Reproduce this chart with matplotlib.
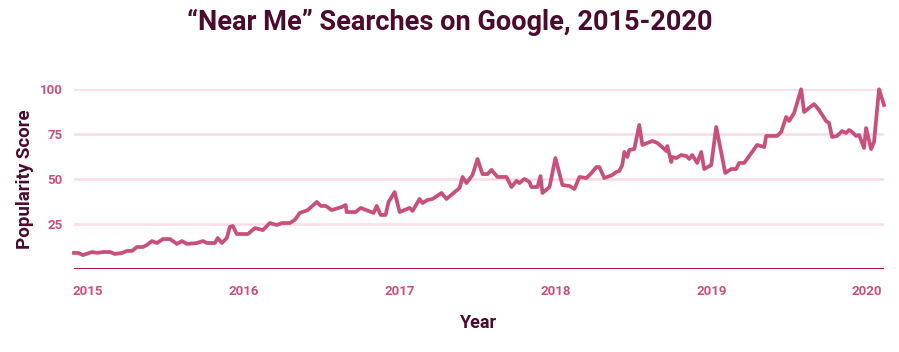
import matplotlib
matplotlib.use("Agg")
from matplotlib import pyplot as plt

# weekly popularity (decimal year, score)
weeks = [2014.910, 2014.936, 2014.968, 2015.026, 2015.058, 2015.096, 2015.141, 2015.173,
         2015.218, 2015.250, 2015.282, 2015.314, 2015.353, 2015.378, 2015.410, 2015.442,
         2015.481, 2015.526, 2015.571, 2015.603, 2015.635, 2015.699, 2015.737, 2015.763,
         2015.814, 2015.833, 2015.859, 2015.891, 2015.910, 2015.929, 2015.955, 2016.026,
         2016.071, 2016.122, 2016.167, 2016.212, 2016.244, 2016.295, 2016.327, 2016.359,
         2016.410, 2016.468, 2016.494, 2016.526, 2016.564, 2016.628, 2016.654, 2016.660,
         2016.718, 2016.750, 2016.833, 2016.853, 2016.878, 2016.910, 2016.929, 2016.968,
         2017.000, 2017.064, 2017.083, 2017.128, 2017.147, 2017.179, 2017.212, 2017.269,
         2017.301, 2017.385, 2017.404, 2017.429, 2017.468, 2017.500, 2017.532, 2017.564,
         2017.590, 2017.628, 2017.686, 2017.718, 2017.750, 2017.769, 2017.801, 2017.833,
         2017.846, 2017.885, 2017.904, 2017.917, 2017.962, 2018.000, 2018.045, 2018.090,
         2018.122, 2018.154, 2018.199, 2018.231, 2018.263, 2018.282, 2018.314, 2018.346,
         2018.365, 2018.391, 2018.410, 2018.429, 2018.442, 2018.462, 2018.474, 2018.506,
         2018.538, 2018.558, 2018.622, 2018.654, 2018.686, 2018.712, 2018.718, 2018.744,
         2018.750, 2018.776, 2018.808, 2018.840, 2018.859, 2018.878, 2018.910, 2018.936,
         2018.955, 2019.000, 2019.032, 2019.090, 2019.128, 2019.160, 2019.179, 2019.212,
         2019.295, 2019.340, 2019.353, 2019.423, 2019.449, 2019.481, 2019.500, 2019.532,
         2019.577, 2019.596, 2019.660, 2019.692, 2019.737, 2019.756, 2019.776, 2019.808,
         2019.840, 2019.865, 2019.885, 2019.904, 2019.929, 2019.949, 2019.981, 2019.994,
         2020.026, 2020.045, 2020.077, 2020.109]
scores = [9.1, 9.1, 7.9, 9.6, 9.1, 9.6, 9.6, 8.5,
          9.1, 10.2, 10.2, 12.4, 12.4, 13.5, 15.7, 14.6,
          16.8, 16.8, 14.1, 15.7, 14.1, 14.6, 15.7, 14.6,
          14.6, 17.4, 14.6, 17.4, 23.5, 24.1, 19.6, 19.6,
          22.9, 21.8, 25.7, 24.6, 25.7, 25.7, 27.4, 31.3,
          32.9, 37.4, 35.2, 35.2, 32.9, 34.6, 35.7, 31.8,
          31.8, 34.1, 31.3, 35.2, 30.2, 30.2, 37.4, 42.9,
          31.8, 34.1, 32.4, 39.1, 36.8, 38.5, 39.1, 42.4,
          39.1, 45.2, 51.3, 47.9, 52.4, 61.3, 52.9, 52.9,
          55.2, 51.3, 51.3, 45.7, 49.1, 47.9, 50.2, 48.5,
          45.7, 45.7, 51.8, 42.4, 45.7, 61.8, 46.8, 46.3,
          44.6, 51.3, 50.7, 53.5, 56.8, 56.8, 50.7, 51.8,
          52.4, 54.1, 54.6, 57.9, 65.2, 62.4, 66.3, 66.8,
          80.2, 69.1, 71.3, 70.2, 67.9, 65.7, 68.5, 59.6,
          62.4, 61.8, 63.5, 62.9, 61.3, 63.5, 59.1, 65.2,
          55.7, 57.9, 79.1, 53.5, 55.7, 55.7, 59.1, 59.1,
          69.1, 67.9, 74.1, 74.1, 76.3, 84.6, 82.4, 86.8,
          100, 87.4, 91.8, 88.5, 82.4, 81.3, 73.5, 74.1,
          76.8, 75.7, 77.4, 76.3, 74.1, 74.6, 67.4, 78.5,
          66.8, 70.7, 100, 91.3]

year_ticks = [2015, 2016, 2017, 2018, 2019, 2020]
score_ticks = [25, 50, 75, 100]

LINE = "#c94f7c"
GRID = "#fbdbe7"
BASE = "#a3194f"
DARK = "#4a0b2f"
FONT = "Roboto"

fig = plt.figure(figsize=(8.99, 3.52), dpi=100)
ax = fig.add_axes([74 / 899, 1 - 269.3 / 352, 810 / 899, 180 / 352])

for s in score_ticks:
    ax.axhline(s, color=GRID, lw=1.8, zorder=1)
ax.axhline(0, color=BASE, lw=2.2, zorder=2)
ax.plot(weeks, scores, color=LINE, lw=2.7, solid_joinstyle="round", zorder=3, clip_on=False)

ax.set_xlim(2014.910, 2020.109)
ax.set_ylim(0, 100)
for sp in ax.spines.values():
    sp.set_visible(False)

ax.set_xticks(year_ticks)
ax.set_xticklabels([str(y) for y in year_ticks])
ax.set_yticks(score_ticks)
ax.set_yticklabels([str(s) for s in score_ticks])
ax.tick_params(length=0, colors=LINE, labelsize=9.5)
ax.tick_params(axis="x", pad=11)
ax.tick_params(axis="y", pad=8)
for lab in ax.get_xticklabels() + ax.get_yticklabels():
    lab.set_fontfamily(FONT)
    lab.set_fontweight("bold")

ax.set_xlabel("Year", fontfamily=FONT, fontweight="bold", fontsize=13, color=DARK, labelpad=12)
ax.set_ylabel("Popularity Score", fontfamily=FONT, fontweight="bold", fontsize=13.5, color=DARK, labelpad=4)

fig.text(0.5, 1 - 22 / 352, "\u201cNear Me\u201d Searches on Google, 2015-2020",
         ha="center", va="center", fontfamily=FONT, fontweight="bold", fontsize=19.5, color=DARK)

fig.savefig("out.png", dpi=100)
